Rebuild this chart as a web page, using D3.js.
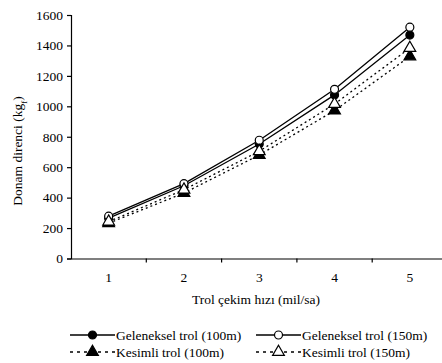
<!DOCTYPE html>
<html>
<head>
<meta charset="utf-8">
<script src="https://cdn.jsdelivr.net/npm/d3@7"></script>
<style>
  body { margin: 0; background: #fff; }
  svg text { font-family: "Liberation Serif", "Times New Roman", Times, serif; fill: #000; }
</style>
</head>
<body>
<div id="chart"></div>
<script>
const speeds = ['1', '2', '3', '4', '5'];
const yTicks = [0, 200, 400, 600, 800, 1000, 1200, 1400, 1600];
const gel100 = [265, 478, 752, 1075, 1468];
const gel150 = [278, 492, 777, 1112, 1520];
const kes100 = [232, 430, 680, 972, 1328];
const kes150 = [242, 452, 705, 1015, 1383];

const series = [
  { name: 'Geleneksel trol (100m)', values: gel100, dash: null, symbol: d3.symbolCircle, fill: '#000' },
  { name: 'Geleneksel trol (150m)', values: gel150, dash: null, symbol: d3.symbolCircle, fill: '#fff' },
  { name: 'Kesimli trol (100m)', values: kes100, dash: '2,3', symbol: d3.symbolTriangle, fill: '#000' },
  { name: 'Kesimli trol (150m)', values: kes150, dash: '2,3', symbol: d3.symbolTriangle, fill: '#fff' }
];

const width = 442, height = 363;
const svg = d3.select('#chart').append('svg')
  .attr('width', width)
  .attr('height', height);

const x = d3.scaleBand().domain(speeds).range([71, 447.5]);
const y = d3.scaleLinear().domain([0, 1600]).range([258.5, 15]);

// axes
const yAxis = svg.append('g')
  .attr('transform', 'translate(71,0)')
  .call(d3.axisLeft(y).tickValues(yTicks).tickSize(4).tickPadding(4).tickFormat(d3.format('d')));
const xAxis = svg.append('g')
  .attr('transform', `translate(0,${y(0)})`)
  .call(d3.axisBottom(x).tickSize(0).tickPadding(14));

[yAxis, xAxis].forEach(g => {
  g.attr('font-family', null);
  g.select('.domain').attr('stroke', '#000').attr('stroke-width', 1.2);
  g.selectAll('line').attr('stroke', '#000').attr('stroke-width', 1.2);
  g.selectAll('text').style('font-size', '13.5px');
});

// x ticks at band edges
xAxis.selectAll('.edge')
  .data(speeds.slice(1))
  .enter().append('line')
  .attr('x1', d => x(d)).attr('x2', d => x(d))
  .attr('y1', 0).attr('y2', 4)
  .attr('stroke', '#000').attr('stroke-width', 1.2);

const cx = d => x(d) + x.bandwidth() / 2;

// lines
const line = d3.line()
  .x((d, i) => cx(speeds[i]))
  .y(d => y(d));

series.forEach(s => {
  svg.append('path')
    .attr('d', line(s.values))
    .attr('fill', 'none')
    .attr('stroke', '#000')
    .attr('stroke-width', 1.3)
    .attr('stroke-dasharray', s.dash);
});

// markers
series.forEach(s => {
  svg.selectAll(null)
    .data(s.values)
    .enter().append('path')
    .attr('d', d3.symbol().type(s.symbol).size(s.symbol === d3.symbolCircle ? 50 : 60))
    .attr('transform', (d, i) => `translate(${cx(speeds[i])},${y(d)})`)
    .attr('fill', s.fill)
    .attr('stroke', '#000')
    .attr('stroke-width', 1.2);
});

// axis titles
svg.append('text')
  .attr('transform', 'translate(22,151) rotate(-90)')
  .attr('text-anchor', 'middle')
  .style('font-size', '13.5px')
  .html('Donam direnci (kg<tspan baseline-shift="sub" font-size="9px">f</tspan>)');

svg.append('text')
  .attr('x', 256)
  .attr('y', 304)
  .attr('text-anchor', 'middle')
  .style('font-size', '13.5px')
  .text('Trol çekim hızı (mil/sa)');

// legend
const legendPos = [
  { x0: 70, y: 335 }, { x0: 256, y: 335 },
  { x0: 70, y: 352 }, { x0: 256, y: 352 }
];
series.forEach((s, i) => {
  const p = legendPos[i];
  const g = svg.append('g');
  g.append('line')
    .attr('x1', p.x0).attr('x2', p.x0 + 45)
    .attr('y1', p.y).attr('y2', p.y)
    .attr('stroke', '#000').attr('stroke-width', 1.3)
    .attr('stroke-dasharray', s.dash ? '3,4' : null);
  g.append('path')
    .attr('d', d3.symbol().type(s.symbol).size(s.symbol === d3.symbolCircle ? 50 : 60))
    .attr('transform', `translate(${p.x0 + 22.5},${p.y})`)
    .attr('fill', s.fill)
    .attr('stroke', '#000')
    .attr('stroke-width', 1.2);
  g.append('text')
    .attr('x', p.x0 + 46)
    .attr('y', p.y + 4.5)
    .style('font-size', '13.5px')
    .text(s.name);
});
</script>
</body>
</html>
